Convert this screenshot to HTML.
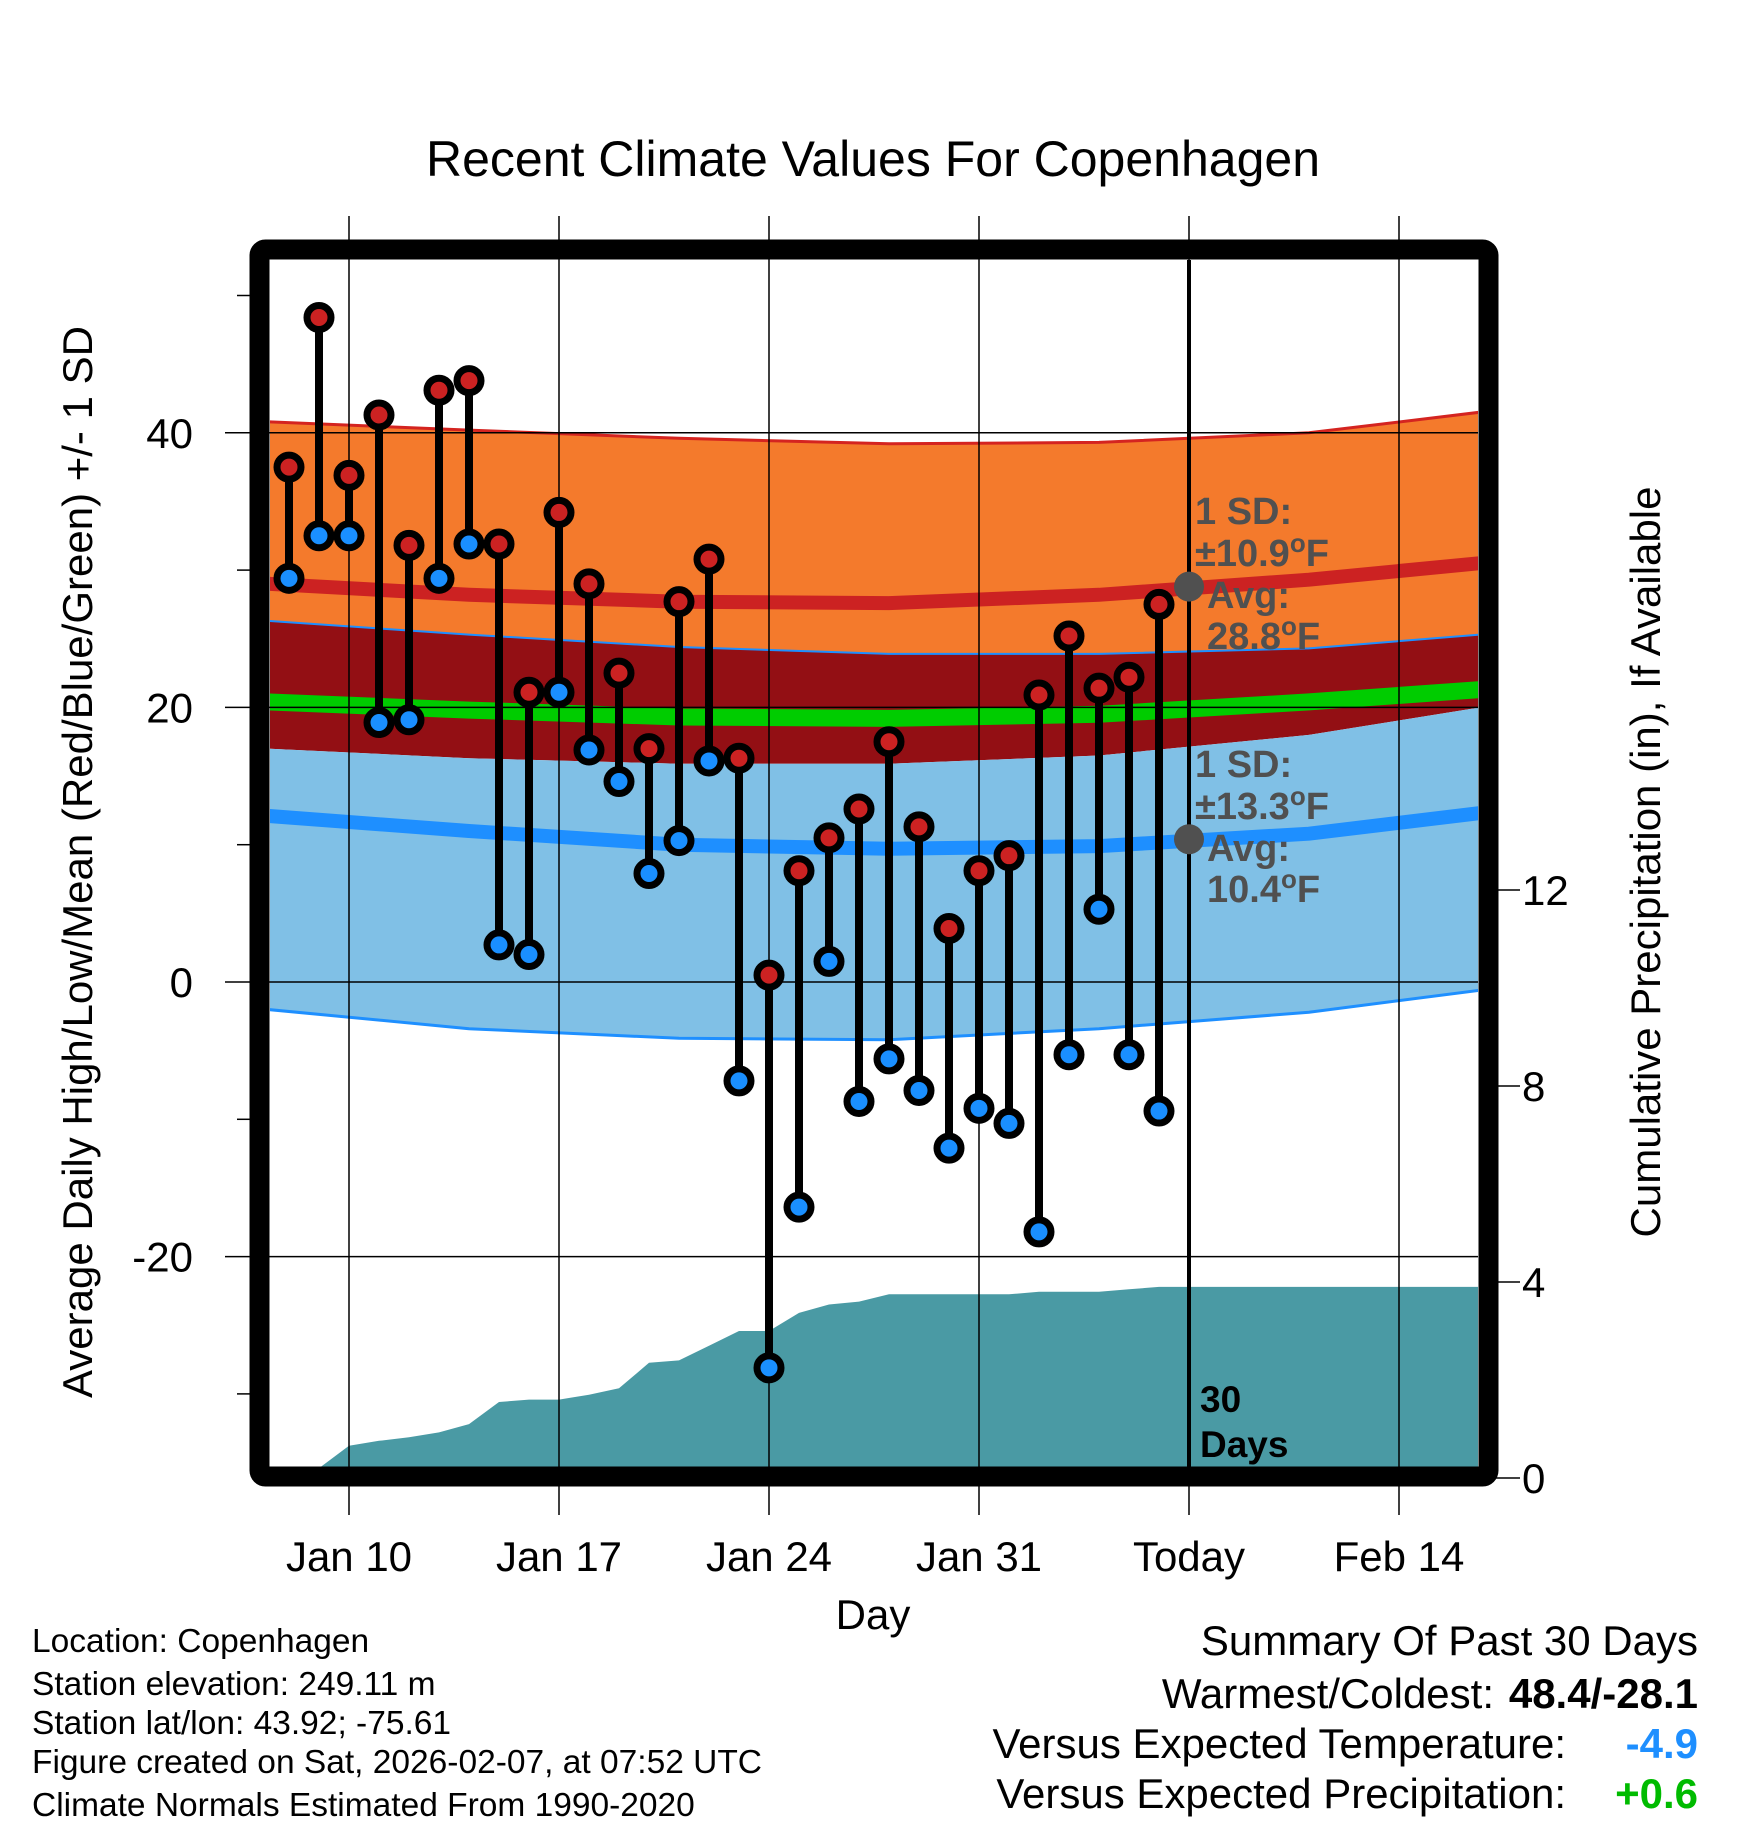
<!DOCTYPE html>
<html><head><meta charset="utf-8"><style>
html,body{margin:0;padding:0;background:#fff;}
svg text{font-family:"Liberation Sans",sans-serif;}
</style></head><body>
<svg id="chart" width="1748" height="1828" viewBox="0 0 1748 1828" xmlns="http://www.w3.org/2000/svg">
<defs><clipPath id="plotclip"><rect x="270" y="260" width="1208" height="1207"/></clipPath></defs>
<text x="873" y="176" font-size="50" text-anchor="middle">Recent Climate Values For Copenhagen</text>
<g id="bands" clip-path="url(#plotclip)"></g>
<g id="precip" clip-path="url(#plotclip)"></g>
<g id="grid"></g>
<g id="marks" clip-path="url(#plotclip)"></g>
<g id="ann"></g>
<rect x="259.5" y="249.5" width="1229" height="1227" rx="6" fill="none" stroke="#000" stroke-width="20"/>
<g id="axes"></g>
<text transform="translate(92,862) rotate(-90)" font-size="42" text-anchor="middle">Average Daily High/Low/Mean (Red/Blue/Green) +/- 1 SD</text>
<text transform="translate(1660,862) rotate(-90)" font-size="42" text-anchor="middle">Cumulative Precipitation (in), If Available</text>
<text x="873" y="1629" font-size="42" text-anchor="middle">Day</text>
<g font-size="33.5">
<text x="32" y="1652">Location: Copenhagen</text>
<text x="32" y="1695">Station elevation: 249.11 m</text>
<text x="32" y="1734">Station lat/lon: 43.92; -75.61</text>
<text x="32" y="1773">Figure created on Sat, 2026-02-07, at 07:52 UTC</text>
<text x="32" y="1816">Climate Normals Estimated From 1990-2020</text>
</g>
<g font-size="42">
<text x="1698" y="1655" text-anchor="end">Summary Of Past 30 Days</text>
<text x="1494" y="1708" text-anchor="end">Warmest/Coldest:</text>
<text x="1698" y="1708" text-anchor="end" font-weight="bold">48.4/-28.1</text>
<text x="1566" y="1758" text-anchor="end">Versus Expected Temperature:</text>
<text x="1698" y="1758" text-anchor="end" font-weight="bold" fill="#1e8fff">-4.9</text>
<text x="1566" y="1808" text-anchor="end">Versus Expected Precipitation:</text>
<text x="1698" y="1808" text-anchor="end" font-weight="bold" fill="#00bb00">+0.6</text>
</g>
</svg>
<script>
// Daily observations, Jan 8 .. Feb 6
const startDay = 8;
const highs = [37.5,48.4,36.9,41.3,31.8,43.1,43.8,31.9,21.1,34.2,29.0,22.5,17.0,27.7,30.8,16.3,0.5,8.1,10.5,12.6,17.5,11.3,3.9,8.1,9.2,20.9,25.2,21.4,22.2,27.5];
const lows = [29.4,32.5,32.5,18.9,19.1,29.4,31.9,2.7,2.0,21.1,16.9,14.6,7.9,10.3,16.1,-7.2,-28.1,-16.4,1.5,-8.7,-5.6,-7.9,-12.1,-9.2,-10.3,-18.2,-5.3,5.3,-5.3,-9.4];
const precip = [0,0.2,0.66,0.76,0.83,0.93,1.1,1.55,1.6,1.6,1.7,1.83,2.35,2.4,2.7,3.0,3.0,3.37,3.54,3.6,3.75,3.75,3.75,3.75,3.75,3.8,3.8,3.8,3.85,3.9];
// Climate normals at knot days (day number counted from Jan 1)
const normDays = [7.3,14,21,28,35,42,47.7];
const highTop = [40.8,40.2,39.6,39.2,39.3,40.0,41.5];
const highMean = [29.0,28.2,27.7,27.6,28.2,29.3,30.5];
const darkTop = [26.3,25.3,24.4,23.9,23.9,24.3,25.3];
const meanLine = [20.4,19.8,19.3,19.2,19.5,20.4,21.3];
const lowTop = [17.0,16.3,15.9,15.9,16.5,18.0,20.0];
const lowMean = [12.1,11.0,10.0,9.7,9.9,10.8,12.3];
const lowBottom = [-2.0,-3.4,-4.1,-4.2,-3.4,-2.2,-0.6];
const xTickDays = [10,17,24,31,38,45];
const xTickLabels = ["Jan 10","Jan 17","Jan 24","Jan 31","Today","Feb 14"];
const yTicks = [40,20,0,-20];
const yMinor = [50,30,10,-10,-30];
const y2Ticks = [0,4,8,12];
const todayDay = 38;
const todayHighAvg = 28.8, todayLowAvg = 10.4;

const NS="http://www.w3.org/2000/svg";
const X = d => 349 + (d-10)*30;
const Y = v => 982 - v*13.73;
const Y2 = v => 1478 - v*49;
function mk(tag, attrs, parent){const e=document.createElementNS(NS,tag);for(const k in attrs)e.setAttribute(k,attrs[k]);parent.appendChild(e);return e;}
const g = id => document.getElementById(id);

function lineStr(days, vals, rev){let pts=days.map((d,i)=>X(d).toFixed(1)+","+Y(vals[i]).toFixed(1));if(rev)pts.reverse();return pts.join(" ");}
function band(top,bot,fill,name){
  const p=mk('polygon',{points:lineStr(normDays,top)+" "+lineStr(normDays,bot,true),fill:fill},g('bands'));
  
  
}
function pl(vals,stroke,w,name){
  const p=mk('polyline',{points:lineStr(normDays,vals),fill:"none",stroke:stroke,"stroke-width":w},g('bands'));
  
  
}
band(highTop,darkTop,"#f47a2c","high-sd-band");
band(darkTop,lowTop,"#930f14","overlap-band");
band(lowTop,lowBottom,"#80c0e6","low-sd-band");
pl(highTop,"#d42420",3,"high-upper-edge");
pl(darkTop,"#1e8fff",2,"overlap-upper-edge");
pl(lowBottom,"#1e8fff",3,"low-lower-edge");
pl(highMean,"#cc2222",14,"avg-high-line");
pl(meanLine,"#00cc00",17,"avg-mean-line");
pl(lowMean,"#1e8fff",14,"avg-low-line");

(function(){
  let pts=[X(5)+","+Y2(0)];
  precip.forEach((v,i)=>pts.push(X(startDay+i).toFixed(1)+","+Y2(v).toFixed(1)));
  pts.push(X(50)+","+Y2(precip[precip.length-1]).toFixed(1));
  pts.push(X(50)+","+Y2(-1));pts.push(X(5)+","+Y2(-1));
  const p=mk('polygon',{points:pts.join(" "),fill:"#4a9aa4"},g('precip'));
  
  
})();

xTickDays.forEach((d,i)=>{
  const l=mk('line',{x1:X(d),x2:X(d),y1:216,y2:1515,stroke:"#000","stroke-width":1.5},g('grid'));
  
  
  const t=mk('text',{x:X(d),y:1571,"font-size":42,"text-anchor":"middle"},g('axes'));
  t.textContent=xTickLabels[i];
  
  
});
yTicks.forEach(v=>{
  const l=mk('line',{x1:225,x2:1478,y1:Y(v),y2:Y(v),stroke:"#000","stroke-width":1.5},g('grid'));
  
  
  const t=mk('text',{x:193,y:Y(v)+15,"font-size":42,"text-anchor":"end"},g('axes'));
  t.textContent=v;
  
  
});
yMinor.forEach(v=>{
  const l=mk('line',{x1:237,x2:250,y1:Y(v),y2:Y(v),stroke:"#000","stroke-width":1.5},g('axes'));
  
  
});
y2Ticks.forEach(v=>{
  const l=mk('line',{x1:1495,x2:1520,y1:Y2(v),y2:Y2(v),stroke:"#000","stroke-width":1.5},g('axes'));
  
  
  const t=mk('text',{x:1522,y:Y2(v)+15,"font-size":42},g('axes'));
  t.textContent=v;
  
  
});

(function(){
  const l=mk('line',{x1:X(todayDay),x2:X(todayDay),y1:260,y2:1467,stroke:"#000","stroke-width":4},g('grid'));
  
  
})();

highs.forEach((h,i)=>{
  const x=X(startDay+i);
  const s=mk('line',{x1:x,x2:x,y1:Y(h),y2:Y(lows[i]),stroke:"#000","stroke-width":8},g('marks'));
  
  
});
highs.forEach((h,i)=>{
  const x=X(startDay+i);
  const c1=mk('circle',{cx:x,cy:Y(h),r:12,fill:"#cc2222",stroke:"#000","stroke-width":7},g('marks'));
  
  
  const c2=mk('circle',{cx:x,cy:Y(lows[i]),r:12,fill:"#1a8fff",stroke:"#000","stroke-width":7},g('marks'));
  
  
});

(function(){
  const a=g('ann');
  [[todayHighAvg,'today-avg-high-dot'],[todayLowAvg,'today-avg-low-dot']].forEach(([v,n])=>{
    const c=mk('circle',{cx:X(todayDay),cy:Y(v),r:15,fill:"#505050"},a);
    
    
  });
  function txt(x,y,s,name,fill,size){
    const t=mk('text',{x:x,y:y,"font-size":size||38,"font-weight":"bold",fill:fill||"#505050"},a);
    t.innerHTML=s;
    
    
  }
  const bx=1195;
  txt(bx,524,"1 SD:","high-sd-label");
  txt(bx,566,"±10.9<tspan dy='-14' font-size='26'>o</tspan><tspan dy='14'>F</tspan>","high-sd-value");
  txt(bx+12,608,"Avg:","high-avg-label");
  txt(bx+12,649,"28.8<tspan dy='-14' font-size='26'>o</tspan><tspan dy='14'>F</tspan>","high-avg-value");
  txt(bx,777,"1 SD:","low-sd-label");
  txt(bx,819,"±13.3<tspan dy='-14' font-size='26'>o</tspan><tspan dy='14'>F</tspan>","low-sd-value");
  txt(bx+12,861,"Avg:","low-avg-label");
  txt(bx+12,902,"10.4<tspan dy='-14' font-size='26'>o</tspan><tspan dy='14'>F</tspan>","low-avg-value");
  txt(1200,1412,"30","days-count","#000",37);
  txt(1200,1457,"Days","days-label","#000",37);
})();
</script>
</body></html>
